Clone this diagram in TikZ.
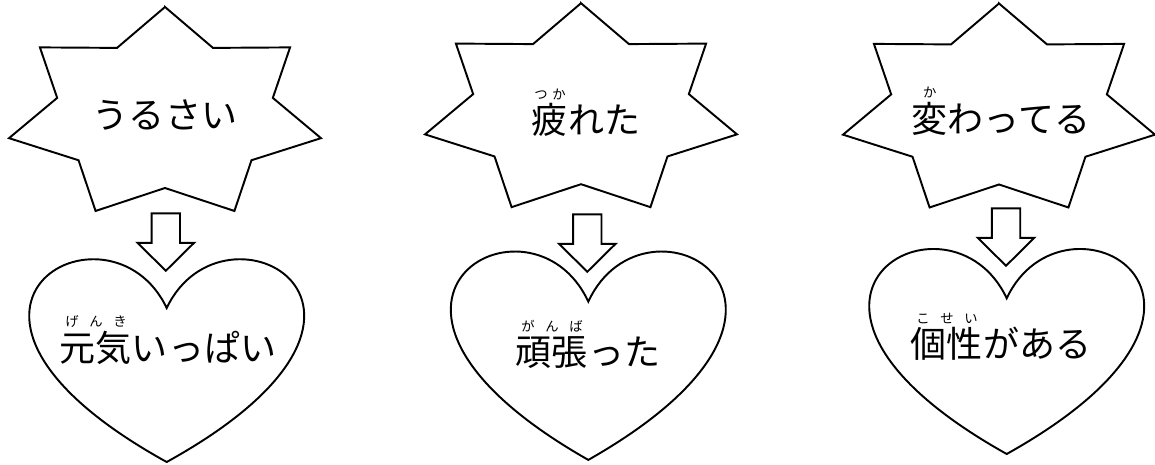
\documentclass[tikz,border=0pt]{standalone}
\usepackage{fontspec}
\newfontfamily\jpfont{Noto Sans CJK JP}
\usepackage{tikz}

% furigana: reading spread over the base word
\newcommand{\rb}[1]{\hfil#1\hfil}
\newcommand{\furi}[2]{\leavevmode\setbox0\hbox{#1}%
  \rlap{\smash{\raisebox{0.95em}{\hbox to\wd0{\fontsize{7.6}{8}\selectfont#2}}}}\box0}

\begin{document}
\begin{tikzpicture}[
    x=0.02cm, y=-0.02cm,
    outline/.style={draw, line width=1.1pt, fill=white, line join=miter},
    word/.style={font=\jpfont\fontsize{20.5}{24}\selectfont, inner sep=0pt}
]
\useasboundingbox (0,0) rectangle (1155,465);

%==============================================================================
% Shapes: burst (top), block arrow, heart (bottom)
%==============================================================================
\foreach \sx/\sy/\ax/\ay/\hx/\ht/\hh in {165/114.3/165.8/213.3/166.7/256.7/205.3,
    581/110.5/587.3/214.3/588.3/248.9/211, 999/110.8/1006/208.3/1006.7/246.4/207.6}{
    % seven-point burst
    \draw[outline, shift={(\sx,\sy)}] (-90:160 and 107.3)
        \foreach \k in {1,...,7} {
            -- ({-90+51.4286*\k-25.7143}:110.6 and 73.7)
            -- ({-90+51.4286*\k}:160 and 107.3)
        } -- cycle;
    % block arrow down
    \draw[outline, shift={(\ax,\ay)}] (-14.2,0) -- (14.2,0) -- (14.2,29.5)
        -- (28.3,29.5) -- (0,57.5) -- (-28.3,29.5) -- (-14.2,29.5) -- cycle;
    % heart
    \draw[outline, shift={(\hx,\ht)}] (0,{\hh/4})
        .. controls ({10*273/48},{-\hh/3}) and ({49*273/48},{\hh/4}) .. (0,\hh)
        .. controls ({-49*273/48},{\hh/4}) and ({-10*273/48},{-\hh/3}) .. cycle;
}

%==============================================================================
% Words
%==============================================================================
\node[word] (loud)   at (165,115)    {うるさい};
\node[word] (tired)  at (586,120)    {\furi{疲}{\rb{つ}\rb{か}}れた};
\node[word] (odd)    at (1001,118.5) {\furi{変}{\rb{か}}わってる};

\node[word] (lively) at (168,347.5)  {\furi{元気}{\rb{げ}\rb{ん}\rb{き}}いっぱい};
\node[word] (tried)  at (588,353)    {\furi{頑張}{\rb{が}\rb{ん}\rb{ば}}った};
\node[word] (unique) at (1001,343.5) {\furi{個性}{\rb{こ}\rb{せ}\rb{い}}がある};

\end{tikzpicture}
\end{document}
